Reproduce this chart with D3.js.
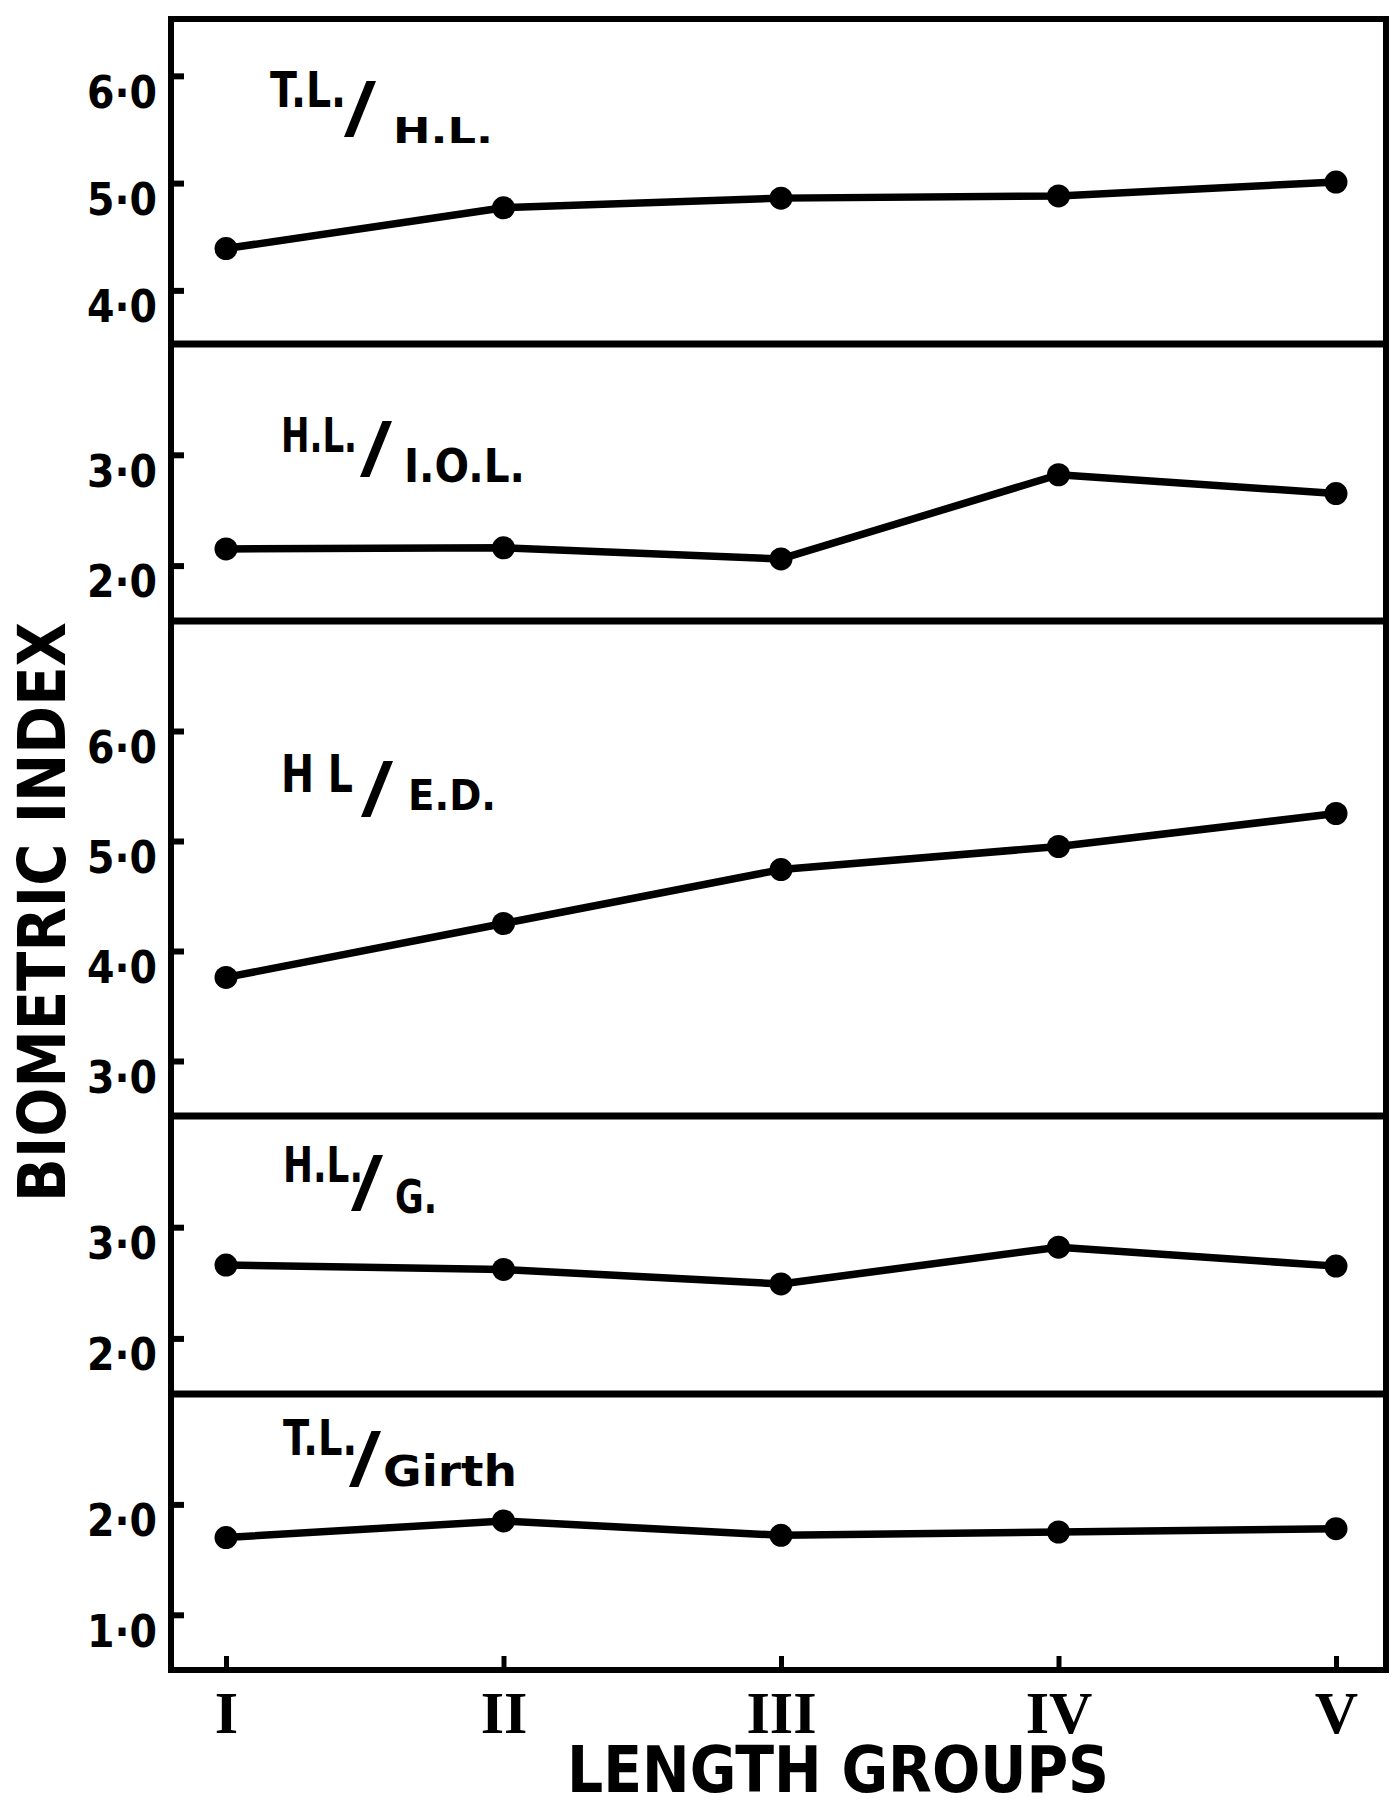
<!DOCTYPE html>
<html>
<head>
<meta charset="utf-8">
<script src="https://cdn.jsdelivr.net/npm/d3@7"></script>
<style>
  body { margin: 0; background: #fff; }
  svg { display: block; }
</style>
</head>
<body>
<svg id="chart" width="1400" height="1809"></svg>
<script>
// ---------- DATA ----------
const categories = ["I", "II", "III", "IV", "V"];
const tlHl     = [4.39, 4.77, 4.86, 4.88, 5.01];   // T.L./H.L.
const hlIol    = [2.15, 2.16, 2.06, 2.82, 2.65];   // H.L./I.O.L.
const hlEd     = [3.76, 4.25, 4.74, 4.95, 5.25];   // H L/E.D.
const hlG      = [2.66, 2.62, 2.49, 2.82, 2.65];   // H.L./G.
const tlGirth  = [1.70, 1.85, 1.72, 1.75, 1.78];   // T.L./Girth

const numerators   = ["T.L.", "H.L.", "H L", "H.L.", "T.L."];
const denominators = ["H.L.", "I.O.L.", "E.D.", "G.", "Girth"];

const yDomains = [[3.5, 6.53], [1.5, 4.0], [2.5, 7.0], [1.5, 4.0], [0.5, 3.0]];
const yTickValues = [[4, 5, 6], [2, 3], [3, 4, 5, 6], [2, 3], [1, 2]];

const yTitle = "BIOMETRIC INDEX";
const xTitle = "LENGTH GROUPS";

const seriesList = [tlHl, hlIol, hlEd, hlG, tlGirth];

// ---------- LAYOUT ----------
const frameLeft = 171, frameRight = 1386;
const panelEdges = [19, 344, 621, 1116, 1394, 1670];
// n = numerator, s = slash, d = denominator : x, baseline y, font size, text length
const labelLayout = [
  { nx: 270, ny: 107, nf: 50, nl: 76,  sx: 344, sy: 131,  df: 36, dx: 393, dy: 143,  dl: 100 },
  { nx: 281, ny: 452, nf: 48, nl: 76,  sx: 360, sy: 471,  df: 46, dx: 404, dy: 482,  dl: 121 },
  { nx: 281, ny: 792, nf: 52, nl: 72,  sx: 361, sy: 811,  df: 42, dx: 408, dy: 810,  dl: 88 },
  { nx: 283, ny: 1182, nf: 50, nl: 80, sx: 351, sy: 1205, df: 46, dx: 395, dy: 1213, dl: 42 },
  { nx: 283, ny: 1455, nf: 50, nl: 74, sx: 349, sy: 1481, df: 42, dx: 383, dy: 1486, dl: 134 }
];

const fontSans = "'DejaVu Sans', 'Liberation Sans', sans-serif";
const fontSerif = "'Liberation Serif', 'DejaVu Serif', serif";

const svg = d3.select("#chart");
const fmt = v => d3.format(".1f")(v).replace(".", "\u00B7");

const x = d3.scalePoint().domain(categories).range([226, 1336]);

// frame
svg.append("rect")
  .attr("x", frameLeft).attr("y", panelEdges[0])
  .attr("width", frameRight - frameLeft)
  .attr("height", panelEdges[5] - panelEdges[0])
  .attr("fill", "none").attr("stroke", "#000").attr("stroke-width", 6);

// dividers
svg.selectAll("line.divider")
  .data(panelEdges.slice(1, 5))
  .enter().append("line")
  .attr("class", "divider")
  .attr("x1", frameLeft).attr("x2", frameRight)
  .attr("y1", d => d).attr("y2", d => d)
  .attr("stroke", "#000").attr("stroke-width", 7);

seriesList.forEach((series, p) => {
  const y = d3.scaleLinear().domain(yDomains[p]).range([panelEdges[p + 1], panelEdges[p]]);
  const g = svg.append("g");

  // y axis
  const ax = g.append("g")
    .attr("transform", `translate(${frameLeft},0)`)
    .call(d3.axisLeft(y).tickValues(yTickValues[p]).tickSize(-13).tickPadding(14).tickFormat(fmt));
  ax.select(".domain").remove();
  ax.selectAll(".tick line").attr("stroke", "#000").attr("stroke-width", 6);
  ax.selectAll(".tick text")
    .attr("fill", "#000")
    .attr("font-family", fontSans)
    .attr("font-weight", "bold")
    .attr("font-size", 45)
    .attr("textLength", 70)
    .attr("lengthAdjust", "spacingAndGlyphs")
    .attr("dy", "0.36em")
    .attr("y", 15);

  // line
  const line = d3.line().x((d, i) => x(categories[i])).y(d => y(d));
  g.append("path")
    .datum(series)
    .attr("d", line)
    .attr("fill", "none")
    .attr("stroke", "#000")
    .attr("stroke-width", 7.5)
    .attr("stroke-linejoin", "round")
    .attr("stroke-linecap", "round");

  g.selectAll("circle")
    .data(series)
    .enter().append("circle")
    .attr("cx", (d, i) => x(categories[i]))
    .attr("cy", d => y(d))
    .attr("r", 11.5)
    .attr("fill", "#000");

  // panel label: numerator / denominator as one text
  const L = labelLayout[p];
  const t = g.append("text")
    .attr("font-family", fontSans).attr("font-weight", "bold")
    .attr("fill", "#000");
  t.append("tspan")
    .attr("x", L.nx).attr("y", L.ny)
    .attr("font-size", L.nf)
    .attr("textLength", L.nl).attr("lengthAdjust", "spacingAndGlyphs")
    .text(numerators[p]);
  t.append("tspan")
    .attr("x", L.sx).attr("y", L.sy)
    .attr("font-size", 68)
    .attr("textLength", 32).attr("lengthAdjust", "spacingAndGlyphs")
    .text("/");
  t.append("tspan")
    .attr("x", L.dx).attr("y", L.dy)
    .attr("font-size", L.df)
    .attr("textLength", L.dl).attr("lengthAdjust", "spacingAndGlyphs")
    .text(denominators[p]);
});

// x axis (bottom)
const yBottom = panelEdges[5];
const xa = svg.append("g")
  .attr("transform", `translate(0,${yBottom})`)
  .call(d3.axisBottom(x).tickSize(-14).tickPadding(20));
xa.select(".domain").remove();
xa.selectAll(".tick line").attr("stroke", "#000").attr("stroke-width", 5);
xa.selectAll(".tick text")
  .attr("fill", "#000")
  .attr("font-family", fontSerif)
  .attr("font-weight", "bold")
  .attr("font-size", 60);

// titles
svg.append("text")
  .attr("transform", "translate(65,912) rotate(-90)")
  .attr("text-anchor", "middle")
  .attr("font-family", fontSans).attr("font-weight", "bold")
  .attr("font-size", 66)
  .attr("textLength", 580).attr("lengthAdjust", "spacingAndGlyphs")
  .attr("fill", "#000")
  .text(yTitle);

svg.append("text")
  .attr("x", 838).attr("y", 1792)
  .attr("text-anchor", "middle")
  .attr("font-family", fontSans).attr("font-weight", "bold")
  .attr("font-size", 64)
  .attr("textLength", 542).attr("lengthAdjust", "spacingAndGlyphs")
  .attr("fill", "#000")
  .text(xTitle);
</script>
</body>
</html>
